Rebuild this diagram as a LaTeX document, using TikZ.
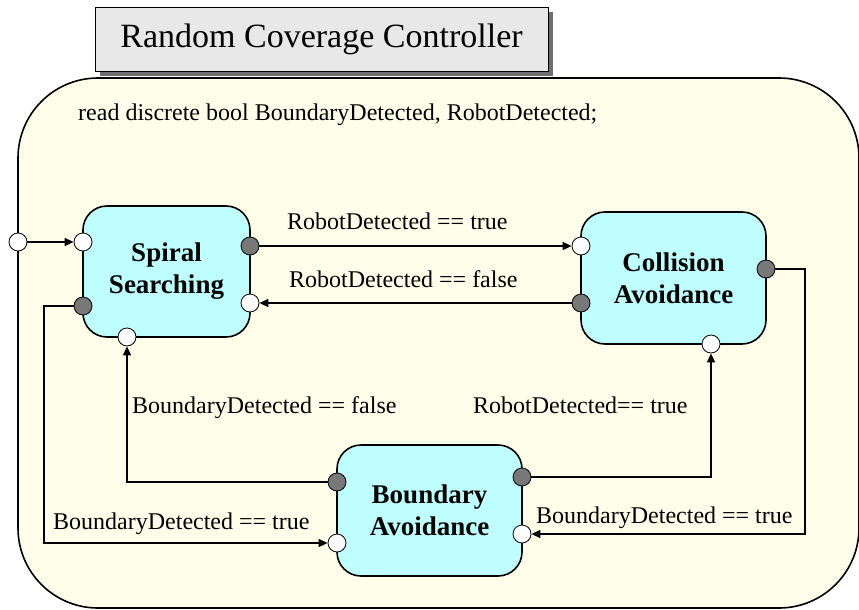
\documentclass[tikz,border=0pt]{standalone}
\usepackage{fontspec}
\setmainfont{Liberation Serif}
\usetikzlibrary{arrows.meta}
\definecolor{bgyellow}{RGB}{255,254,234}
\definecolor{boxcyan}{RGB}{192,255,255}
\definecolor{titlegray}{RGB}{232,232,232}
\definecolor{shadowgray}{RGB}{110,110,110}
\definecolor{portgray}{RGB}{120,120,120}
\begin{document}
\begin{tikzpicture}[x=1pt,y=-1pt,
  statebox/.style={draw=black, line width=1.6pt, fill=boxcyan, rounded corners=24pt,
    align=center, font=\fontsize{27}{32}\selectfont\bfseries, inner sep=0pt},
  inport/.style={circle, draw=black, line width=0.8pt, fill=white, minimum size=18pt, inner sep=0pt},
  outport/.style={circle, draw=black, line width=0.8pt, fill=portgray, minimum size=18pt, inner sep=0pt},
  conn/.style={draw=black, line width=1.6pt},
  arr/.style={conn, -{Triangle[length=9pt,width=8pt]}},
  lbl/.style={font=\fontsize{24}{28}\selectfont, anchor=base west, inner sep=0pt},
]
\useasboundingbox (0,0) rectangle (859,610);
% container
\begin{scope}
\clip (0,0) rectangle (859,610);
\draw[fill=bgyellow, line width=1.6pt, rounded corners=80pt] (18,78) rectangle (859,608);
\end{scope}
% title
\fill[shadowgray] (100,12) rectangle (553,76);
\node[draw=black, line width=0.8pt, fill=titlegray, minimum width=453pt, minimum height=64pt,
  inner sep=0pt, font=\fontsize{34}{40}\selectfont] (title) at (321.5,39) {Random Coverage Controller};
% declaration
\node[lbl] (decl) at (78,120) {read discrete bool BoundaryDetected, RobotDetected;};
% states
\node[statebox, minimum width=167pt, minimum height=131pt] (spiral) at (166.5,271.5) {Spiral\\Searching};
\node[statebox, minimum width=185pt, minimum height=132pt] (coll) at (673.5,278) {Collision\\Avoidance};
\node[statebox, minimum width=185pt, minimum height=131pt] (bound) at (429.5,510.5) {Boundary\\Avoidance};
% ports
\node[inport] (entry) at (18,242) {};
\node[inport] (spin) at (83,242) {};
\node[outport] (spout) at (250,246) {};
\node[inport] (spin2) at (250,303) {};
\node[outport] (spout2) at (83,306) {};
\node[inport] (spin3) at (127,337) {};
\node[inport] (coin) at (581,246) {};
\node[outport] (coout) at (581,303) {};
\node[outport] (coout2) at (766,269) {};
\node[inport] (coin2) at (711,344) {};
\node[outport] (boout) at (337,482) {};
\node[inport] (boin) at (337,543) {};
\node[outport] (boout2) at (522,477) {};
\node[inport] (boin2) at (522,534) {};
% bend points
\coordinate (c1) at (44,543);
\coordinate (c2) at (127,482);
\coordinate (c3) at (711,477);
\coordinate (c4) at (805,269);
\coordinate (c5) at (805,534);
% connectors
\draw[arr] (entry) -- (spin);
\draw[arr] (spout) -- (coin);
\draw[arr] (coout) -- (spin2);
\draw[arr] (spout2) -| (c1) -- (boin);
\draw[arr] (boout) -- (c2) -- (spin3);
\draw[arr] (boout2) -- (c3) -- (coin2);
\draw[arr] (coout2) -- (c4) -- (c5) -- (boin2);
% labels
\node[lbl] (l1) at (287,229) {RobotDetected == true};
\node[lbl] (l2) at (289,287) {RobotDetected == false};
\node[lbl] (l3) at (132,413) {BoundaryDetected == false};
\node[lbl] (l4) at (473,413) {RobotDetected== true};
\node[lbl] (l5) at (53,529) {BoundaryDetected == true};
\node[lbl] (l6) at (536,523) {BoundaryDetected == true};
\end{tikzpicture}
\end{document}
